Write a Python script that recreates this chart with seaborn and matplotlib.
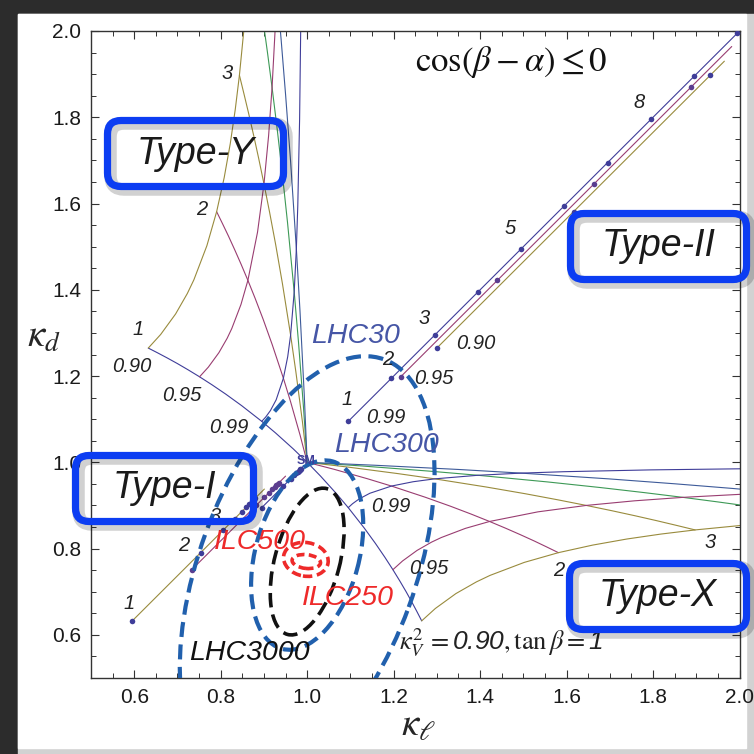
import numpy as np
import matplotlib
matplotlib.use("Agg")
import matplotlib.pyplot as plt
import seaborn as sns
from matplotlib.patches import Ellipse, FancyBboxPatch, Rectangle
from matplotlib.ticker import MultipleLocator, FormatStrFormatter

# ---- data (kappa values) ----
# Type-Y, lines of fixed tan(beta) while kappa_V^2 goes 0.90 -> 1
tb1_kl = [0.6325, 0.6539, 0.6763, 0.6998, 0.7246, 0.7511, 0.7798, 0.8117, 0.8485, 0.8950, 0.9268, 0.9679, 1.0]
tb1_kd = [1.2649, 1.2539, 1.2420, 1.2290, 1.2145, 1.1983, 1.1798, 1.1581, 1.1314, 1.0950, 1.0682, 1.0311, 1.0]
tb2_kl = [0.7906, 0.8039, 0.8178, 0.8321, 0.8471, 0.8629, 0.8798, 0.8983, 0.9192, 0.9450, 0.9621, 0.9837, 1.0]
tb2_kd = [1.5811, 1.5539, 1.5249, 1.4935, 1.4594, 1.4219, 1.3798, 1.3313, 1.2728, 1.1950, 1.1389, 1.0628, 1.0]
tb3_kl = [0.8433, 0.8539, 0.8649, 0.8762, 0.8879, 0.9001, 0.9131, 0.9272, 0.9428, 0.9617, 0.9739, 0.9890, 1.0]
tb3_kd = [1.8974, 1.8539, 1.8077, 1.7581, 1.7044, 1.6455, 1.5798, 1.5045, 1.4142, 1.2950, 1.2096, 1.0944, 1.0]
tb4_kl = [0.8982, 0.9083, 0.9188, 0.9298, 0.9416, 0.9546, 0.9700, 0.9798, 0.9916, 1.0]
tb4_kd = [2.0227, 1.9493, 1.8691, 1.7798, 1.6777, 1.5556, 1.3950, 1.2803, 1.1260, 1.0]
tb5_kl = [0.9348, 0.9398, 0.9502, 0.9617, 0.9750, 0.9834, 0.9932, 1.0]
tb5_kd = [2.0379, 1.9798, 1.8509, 1.6971, 1.4950, 1.3511, 1.1576, 1.0]
# Type-Y, lines of fixed kappa_V^2 while tan(beta) grows
k90_kl = [0.6325, 0.6612, 0.6957, 0.7228, 0.7379, 0.7680, 0.7906, 0.8081, 0.8222, 0.8337, 0.8433, 0.8557]
k90_kd = [1.2649, 1.2965, 1.3440, 1.3914, 1.4230, 1.5021, 1.5811, 1.6602, 1.7393, 1.8183, 1.8974, 2.0239]
k95_kl = [0.7511, 0.7714, 0.7958, 0.8150, 0.8256, 0.8469, 0.8629, 0.8852, 0.9001, 0.9108, 0.9188, 0.9271]
k95_kd = [1.1983, 1.2207, 1.2542, 1.2877, 1.3101, 1.3660, 1.4219, 1.5337, 1.6455, 1.7573, 1.8691, 2.0257]
k99_kl = [0.8950, 0.9041, 0.9150, 0.9283, 0.9450, 0.9550, 0.9617, 0.9700, 0.9750, 0.9783, 0.9825, 0.9853]
k99_kd = [1.0950, 1.1050, 1.1200, 1.1450, 1.1950, 1.2450, 1.2950, 1.3950, 1.4950, 1.5950, 1.7950, 2.0250]

# Type-I (kappa_l = kappa_d), tan(beta) = 1..10
t1_k99 = [0.8950, 0.9450, 0.9617, 0.9700, 0.9750, 0.9783, 0.9807, 0.9825, 0.9839, 0.9850]
t1_k95 = [0.7511, 0.8629, 0.9001, 0.9188, 0.9300, 0.9374, 0.9427, 0.9467, 0.9498, 0.9523]
t1_k90 = [0.6325, 0.7906, 0.8433, 0.8696, 0.8854, 0.8960, 0.9035, 0.9092, 0.9135, 0.9171]
t1_end = [0.993, 0.968, 0.938]
# Type-II (kappa_l = kappa_d)
t2_k99 = [1.095, 1.195, 1.295, 1.395, 1.495, 1.595, 1.695, 1.795, 1.895, 1.995]
t2_k95 = [1.1983, 1.4219, 1.6455, 1.8691]
t2_k90 = [1.2649, 1.5811, 1.8974]
t2_end = [2.0, 1.982, 1.965]

# coupling fit ellipses: name, centre, width, height, angle
ell_names = ["LHC30", "LHC300", "LHC3000", "ILC500", "ILC250"]
ell_cx = [1.0, 1.0, 1.0, 0.997, 0.998]
ell_cy = [0.75, 0.785, 0.77, 0.775, 0.77]
ell_w = [1.04, 0.45, 0.35, 0.104, 0.066]
ell_h = [0.50, 0.24, 0.15, 0.078, 0.032]
ell_ang = [70, 75, 75, -10, -6]

NAVY, MAG, OLV, GRN, BLU = "#3f3d99", "#993d71", "#998b3d", "#3d9956", "#3d5a99"

sns.set_style("ticks")
plt.rcParams["font.family"] = ["Liberation Sans", "DejaVu Sans"]
plt.rcParams["mathtext.fontset"] = "custom"
plt.rcParams["mathtext.rm"] = "STIXGeneral"
plt.rcParams["mathtext.it"] = "STIXGeneral:italic"
plt.rcParams["mathtext.bf"] = "STIXGeneral:bold"
plt.rcParams["mathtext.sf"] = "Liberation Sans:italic"

fig = plt.figure(figsize=(7.54, 7.54), dpi=100, facecolor="#2c2c2c")
W = 754.0
fig.patches.append(Rectangle((18 / W, 0), 1, 740 / W, transform=fig.transFigure,
                             color="#d2d2d2", zorder=-10))
fig.patches.append(Rectangle((18 / W, 6 / W), 728 / W, 734 / W, transform=fig.transFigure,
                             color="white", zorder=-9))
ax = fig.add_axes([91 / W, 76 / W, 648.5 / W, 647 / W])


def curve(x, y, c, lw=0.8):
    sns.lineplot(x=x, y=y, sort=False, estimator=None, color=c, lw=lw, ax=ax, zorder=2)


# Type-Y (upper left) and Type-X (lower right, kappa_l and kappa_d swapped)
for (xs, ys, c) in [(tb1_kl, tb1_kd, NAVY), (tb2_kl, tb2_kd, MAG), (tb3_kl, tb3_kd, OLV),
                    (tb4_kl, tb4_kd, GRN), (tb5_kl, tb5_kd, BLU),
                    (k90_kl, k90_kd, OLV), (k95_kl, k95_kd, MAG), (k99_kl, k99_kd, NAVY)]:
    curve(xs, ys, c)
    curve(ys, xs, c)

# Type-I / Type-II diagonal lines, small x shift so they do not overlap
shift1 = [0.0, -0.018, -0.037]
shift2 = [0.0, 0.018, 0.035]
for vals, end, dx, c, dc in zip([t1_k99, t1_k95, t1_k90], t1_end, shift1,
                               [NAVY, MAG, OLV], [NAVY, "#5b3d8f", NAVY]):
    xs = np.array(vals + [end])
    curve(xs + dx, xs, c)
    sns.scatterplot(x=np.array(vals) + dx, y=vals, color=dc, s=16, linewidth=0, ax=ax, zorder=3)
for vals, end, dx, c, dc in zip([t2_k99, t2_k95, t2_k90], t2_end, shift2,
                               [NAVY, MAG, OLV], [NAVY, "#5b3d8f", NAVY]):
    xs = np.array(vals + [end - dx])
    curve(xs + dx, xs, c)
    sns.scatterplot(x=np.array(vals) + dx, y=vals, color=dc, s=16, linewidth=0, ax=ax, zorder=3)

# ellipses
ell_col = ["#2160ad", "#2160ad", "#111111", "#ee2a2a", "#ee2a2a"]
ell_lw = [3.0, 3.0, 2.6, 2.6, 2.6]
ell_ls = [(0, (3.6, 1.8)), (0, (3.6, 1.8)), (0, (4.0, 2.0)), (0, (2.6, 1.3)), (0, (2.2, 1.2))]
for i in range(len(ell_names)):
    ax.add_patch(Ellipse((ell_cx[i], ell_cy[i]), ell_w[i], ell_h[i], angle=ell_ang[i],
                         fill=False, ec=ell_col[i], lw=ell_lw[i], ls=ell_ls[i], zorder=4))

ax.set_xlim(0.5, 2.0)
ax.set_ylim(0.5, 2.0)
ax.set_xticks([0.6, 0.8, 1.0, 1.2, 1.4, 1.6, 1.8, 2.0])
ax.set_yticks([0.6, 0.8, 1.0, 1.2, 1.4, 1.6, 1.8, 2.0])
ax.xaxis.set_minor_locator(MultipleLocator(0.05))
ax.yaxis.set_minor_locator(MultipleLocator(0.05))
ax.xaxis.set_major_formatter(FormatStrFormatter("%.1f"))
ax.yaxis.set_major_formatter(FormatStrFormatter("%.1f"))
ax.tick_params(which="both", direction="in", top=True, right=True, color="#333333",
               labelsize=15, labelcolor="#1a1a1a")
ax.tick_params(which="major", length=6, width=0.8, pad=7)
ax.tick_params(which="minor", length=3.5, width=0.7)
for sp in ax.spines.values():
    sp.set_color("#333333")
    sp.set_linewidth(1.0)

ax.set_xlabel(r"$\kappa_\ell$", fontsize=28, va="center", ha="center")
ax.xaxis.set_label_coords(0.505, -0.072)
ax.set_ylabel(r"$\kappa_d$", fontsize=28, rotation=0, va="center", ha="center")
ax.yaxis.set_label_coords(-0.073, 0.527)

# small number labels
num_txt = ["3", "2", "1", "0.90", "0.95", "0.99",
           "1", "2", "3",
           "1", "0.99", "2", "0.95", "3", "0.90", "5", "8",
           "0.99", "0.95", "2", "3"]
num_x = [0.814, 0.756, 0.608, 0.595, 0.710, 0.818,
         0.589, 0.714, 0.787,
         1.093, 1.182, 1.186, 1.292, 1.271, 1.390, 1.470, 1.768,
         1.194, 1.282, 1.582, 1.933]
num_y = [1.902, 1.587, 1.308, 1.222, 1.154, 1.081,
         0.673, 0.808, 0.874,
         1.145, 1.105, 1.238, 1.195, 1.333, 1.275, 1.542, 1.834,
         0.897, 0.753, 0.750, 0.815]
for t, x, y in zip(num_txt, num_x, num_y):
    ax.text(x, y, t, fontsize=14.5, style="italic", color="#222222",
            ha="center", va="center", zorder=5)

big_txt = ["LHC30", "LHC300", "LHC3000", "ILC500", "ILC250"]
big_x = [1.112, 1.184, 0.867, 0.891, 1.094]
big_y = [1.292, 1.041, 0.557, 0.816, 0.685]
big_col = ["#4656a6", "#4656a6", "#111111", "#ee2a2a", "#ee2a2a"]
for t, x, y, c in zip(big_txt, big_x, big_y, big_col):
    ax.text(x, y, t, fontsize=20.5, style="italic", color=c, ha="center", va="center", zorder=5)

ax.text(0.997, 1.003, "SM", fontsize=9, fontweight="bold", color=NAVY,
        ha="center", va="center", zorder=5)
ax.text(1.471, 1.929, r"$\cos(\beta-\alpha)\leq 0$", fontsize=25, color="#111111",
        ha="center", va="center")
ax.text(1.213, 0.582, r"$\kappa_V^2\,=\mathsf{0.90},\mathrm{tan}\,\beta=\mathsf{1}$", fontsize=19,
        color="#222222", ha="left", va="center", zorder=5)

# model boxes (figure pixel boxes, outer edges)
box_txt = ["Type-Y", "Type-II", "Type-I", "Type-X"]
box_x0 = [104, 567, 72, 566]
box_y0 = [117, 210, 452, 560]
box_x1 = [287, 750, 257, 750]
box_y1 = [190, 283, 525, 633]
for t, x0, y0, x1, y1 in zip(box_txt, box_x0, box_y0, box_x1, box_y1):
    x0, x1, y0, y1 = x0 + 3.5, x1 - 3.5, y0 + 3.5, y1 - 3.5
    for off, col, lw, z in [(3, (0, 0, 0, 0.18), 9, 6), (0, "#0c3df2", 5.2, 7)]:
        fig.patches.append(FancyBboxPatch(((x0 + off) / W, 1 - (y1 + off) / W),
                                          (x1 - x0) / W, (y1 - y0) / W,
                                          boxstyle="round,pad=0,rounding_size=0.018",
                                          transform=fig.transFigure, fc="none",
                                          ec=col, lw=lw, zorder=z))
    fig.text((x0 + x1) / 2 / W, 1 - (y0 + y1) / 2 / W, t, fontsize=27, style="italic",
             color="#1a1a1a", ha="center", va="center", zorder=8)

fig.savefig("out.png", dpi=100, facecolor=fig.get_facecolor())
